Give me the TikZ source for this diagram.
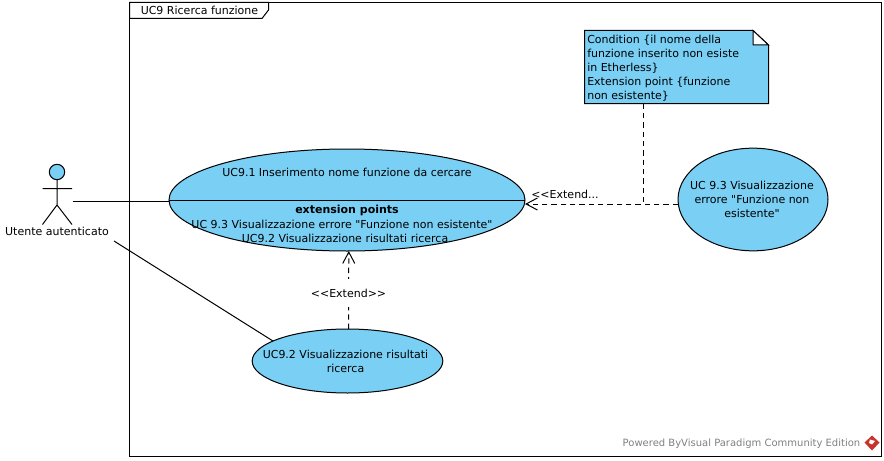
\documentclass[tikz,border=0pt]{standalone}
\usepackage{fontspec}
\setmainfont[Ligatures=TeXOff]{DejaVu Sans}
\usetikzlibrary{shapes.geometric,arrows.meta}
\definecolor{ucfill}{HTML}{7ACFF5}
\definecolor{wm}{HTML}{808080}
\definecolor{logored}{HTML}{C8342C}
\tikzset{
  x=0.75pt,y=-0.75pt,
  txt/.style={inner sep=0pt,font=\fontsize{8.25pt}{10.5pt}\selectfont,align=center},
  uc/.style={ellipse,draw=black,fill=ucfill,line width=0.75pt,inner sep=0pt,outer sep=0pt},
  solidline/.style={draw=black,line width=0.75pt},
  dashline/.style={draw=black,line width=0.75pt,dash pattern=on 4pt off 3pt},
  openarrow/.style={-{Straight Barb[length=8.5pt,width=9pt,line width=0.75pt]}},
}
\begin{document}
\begin{tikzpicture}
\useasboundingbox (0,0) rectangle (884,460);
% frame
\draw[solidline] (129.5,2.5) rectangle (881.5,456.5);
\draw[solidline,fill=white] (129.5,2.5) -- (268.5,2.5) -- (268.5,10) -- (262,18.5) -- (129.5,18.5) -- cycle;
\node[txt,anchor=west] (title) at (140.5,10.5) {UC9 Ricerca funzione};
% actor
\draw[solidline,fill=ucfill] (57,172) circle[radius=7.7];
\coordinate (neck) at (57,179.7);
\coordinate (hip) at (57,205);
\coordinate (lfoot) at (42.5,224.5);
\coordinate (rfoot) at (72,224.5);
\coordinate (larm) at (42.5,188.5);
\coordinate (rarm) at (72,188.5);
\draw[solidline] (neck) -- (hip) (larm) -- (rarm) (lfoot) -- (hip) -- (rfoot);
\node[txt] (actor) at (57,231) {Utente autenticato};
\coordinate (actorA) at (72.5,201);
\coordinate (actorB) at (114,241);
% use cases
\node[uc,minimum width=267pt,minimum height=76.5pt] (e1) at (347,200) {};
\node[uc,minimum width=143pt,minimum height=48pt] (e2) at (347.5,361) {};
\node[uc,minimum width=112.5pt,minimum height=77pt] (e3) at (753,199.5) {};
\draw[solidline] (actorA) -- (e1.west |- actorA);
\draw[solidline] (actorB) -- (e2.165);
\draw[solidline] (e1.west) -- (e1.east);
% use case texts
\node[txt] (t1) at (347,172) {UC9.1 Inserimento nome funzione da cercare};
\node[txt] (t2) at (347,210) {\textbf{extension points}};
\node[txt] (t3) at (342,224.5) {UC 9.3 Visualizzazione errore "Funzione non esistente"};
\node[txt] (t4) at (345,238) {UC9.2 Visualizzazione risultati ricerca};
\node[txt] (t5) at (345.5,361) {UC9.2 Visualizzazione risultati\\ricerca};
\node[txt] (t6) at (752,199.5) {UC 9.3 Visualizzazione\\errore "Funzione non\\esistente"};
% note
\draw[solidline,fill=ucfill] (584.5,30.5) -- (753,30.5) -- (768.5,45) -- (768.5,103.5) -- (584.5,103.5) -- cycle;
\draw[solidline,fill=white] (753,30.5) -- (753,45) -- (768.5,45) -- cycle;
\node[txt,anchor=north west,align=left] (note) at (587,34.5) {Condition \{il nome della\\funzione inserito non esiste\\in Etherless\}\\Extension point \{funzione\\non esistente\}};
\coordinate (noteB) at (643.5,103.5);
% dependencies
\coordinate (joint) at (643.5,204);
\draw[dashline,openarrow] (e3.west |- joint) -- (e1.east |- joint);
\draw[dashline] (noteB) -- (joint);
\node[txt,anchor=west] (l1) at (531,194) {<{}<Extend...};
\draw[dashline,openarrow] (e2.88) -- (e1.272);
\node[txt,fill=white,inner xsep=5pt,inner ysep=7.5pt] (l2) at (348.5,293) {<{}<Extend>{}>};
% watermark
\node[inner sep=0pt,text=wm,font=\fontsize{7.5pt}{9pt}\selectfont,anchor=east] (wm) at (860.5,443.5) {Powered ByVisual Paradigm Community Edition};
\fill[logored] (872,435.5) -- (879.5,442.5) -- (872,450.5) -- (864.5,442.5) -- cycle;
\fill[white] (870,439.5) -- (875,441) -- (872,444.5) -- (869,443) -- cycle;
\end{tikzpicture}
\end{document}
